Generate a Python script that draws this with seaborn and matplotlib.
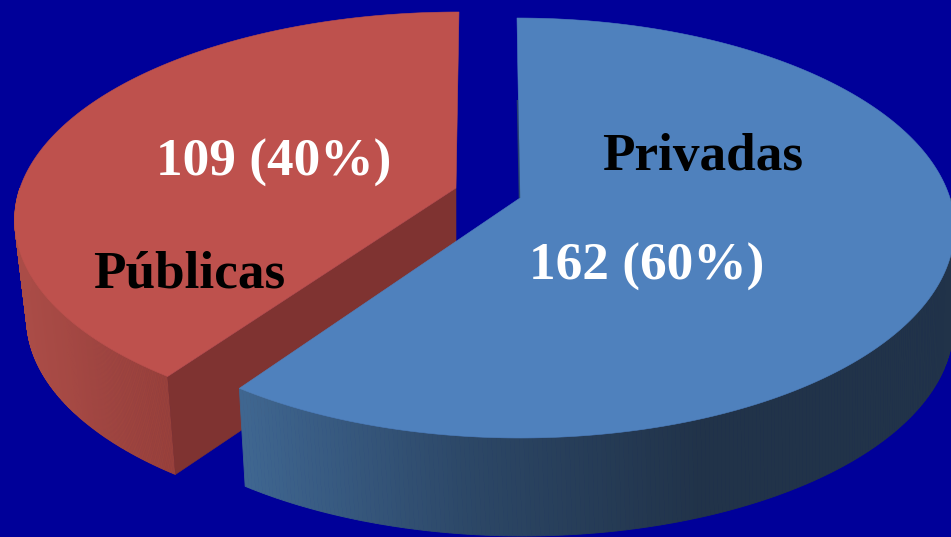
import numpy as np
import matplotlib
matplotlib.use('Agg')
import matplotlib.pyplot as plt
import seaborn as sns

labels = ['Privadas', 'Públicas']
values = [162, 109]

sns.set_theme(style="white")
plt.rcParams['font.family'] = ['Liberation Serif', 'DejaVu Serif']

BG = '#000099'
TOPS = ['#4f81bd', '#be514d']


def project(theta, geo):
    # clockwise from 12 o'clock, v grows towards the viewer
    u, v = np.sin(theta), -np.cos(theta)
    d = 1 - geo['k'] * v
    y = geo['B'] * v / d
    skew = np.where(y < 0, geo['skew_back'], geo['skew_front'])
    x = geo['A'] * u / d + skew * np.abs(y)
    return geo['x0'] + x, geo['y0'] + y


def lower(x, y, geo):
    return geo['x0'] + (x - geo['x0']) * geo['sx'] + geo['c'], y + geo['depth']


def draw_side(ax, t0, t1, geo, shades, xr):
    th = np.linspace(t0, t1, 240)
    x, y = project(th, geo)
    xb, yb = lower(x, y, geo)
    for i in range(len(th) - 1):
        idx = int(np.clip((x[i] - xr[0]) / (xr[1] - xr[0]), 0, 1) * (len(shades) - 1))
        ax.fill([x[i], x[i + 1], xb[i + 1], xb[i]], [y[i], y[i + 1], yb[i + 1], yb[i]],
                color=shades[idx], lw=0.6)


def draw_top(ax, t0, t1, geo, color):
    th = np.linspace(t0, t1, 300)
    x, y = project(th, geo)
    ax.fill(np.r_[geo['x0'], x], np.r_[geo['y0'], y], color=color, lw=0.4)


shares = np.array(values) / sum(values)
split = 2 * np.pi * shares[0]

geo_blue = dict(x0=520, y0=198, A=430, B=205.7, k=1 / 7, skew_back=-0.0167, skew_front=0,
                depth=98, sx=0.99, c=3)
geo_red = dict(x0=456, y0=188, A=436, B=202.4, k=0.15, skew_back=0.017, skew_front=-0.01,
               depth=98, sx=0.973, c=0)

fig = plt.figure(figsize=(9.51, 5.37), dpi=100, facecolor=BG)
ax = fig.add_axes([0, 0, 1, 1])
ax.set_xlim(0, 951)
ax.set_ylim(537, 0)
ax.axis('off')

# red slice first, the blue one sits in front of it
# only the front half of each rim has a visible side
red_shades = sns.blend_palette(['#aa4c47', '#98403a'], 200)
draw_side(ax, split, 1.5 * np.pi, geo_red, red_shades, (20, 175))
cx, cy = project(np.array([split]), geo_red)
bx, by = lower(cx, cy, geo_red)
ax.fill([geo_red['x0'], cx[0], bx[0], geo_red['x0']],
        [geo_red['y0'], cy[0], by[0], geo_red['y0'] + geo_red['depth']],
        color='#7f3331', lw=0.4)
draw_top(ax, split, 2 * np.pi, geo_red, TOPS[1])

blue_shades = sns.blend_palette(['#3f6690', '#2c4766', '#213349'], 400)
draw_side(ax, 0.5 * np.pi, split, geo_blue, blue_shades, (245, 700))
draw_top(ax, 0, split, geo_blue, TOPS[0])
# thin shaded inner wall on the upper cut
ax.plot([geo_blue['x0'] - 2.5, geo_blue['x0'] - 0.5], [100, geo_blue['y0']],
        color='#2f4f68', lw=1.1, alpha=0.8, solid_capstyle='butt')

pct = [round(s * 100) for s in shares]
txt = dict(fontsize=38.3, fontweight='bold', ha='center', va='baseline')
ax.text(703, 170, labels[0], color='black', **txt)
ax.text(647, 280, f'{values[0]} ({pct[0]}%)', color='white', **txt)
ax.text(189, 288, labels[1], color='black', **txt)
ax.text(274, 176, f'{values[1]} ({pct[1]}%)', color='white', **txt)

fig.savefig('out.png', dpi=100, facecolor=BG)
